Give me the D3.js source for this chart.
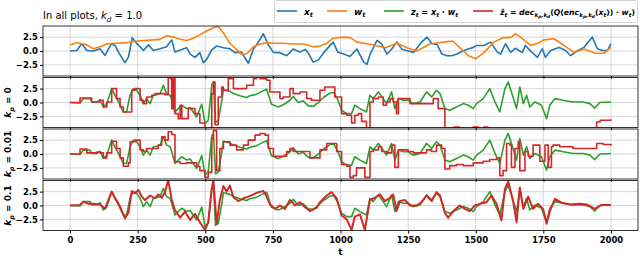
<!DOCTYPE html>
<html>
<head>
<meta charset="utf-8">
<script src="https://cdn.jsdelivr.net/npm/d3@7"></script>
<style>
body { margin: 0; background: #fff; }
svg { display: block; font-family: "DejaVu Sans", sans-serif; }
</style>
</head>
<body>
<script>
// [t, value]
var xt = [[0,0.0],[25,0.1],[43,1.3],[62,0.1],[86,0.0],[111,0.4],[129,-0.8],[153,1.3],[166,1.0],[179,-0.2],[203,-2.1],[216,-1.1],[230,2.4],[240,1.7],[259,0.75],[271,0.1],[290,1.1],[308,0.1],[333,0.4],[357,0.75],[376,2.0],[388,-0.2],[413,0.25],[431,0.6],[444,-0.55],[462,-1.15],[480,-0.3],[493,-2.1],[505,-1.5],[524,0.2],[542,0.9],[567,0.6],[591,0.4],[610,-0.3],[634,-0.2],[659,-2.2],[678,0.3],[696,1.6],[715,3.1],[733,1.1],[752,-0.25],[776,-0.3],[801,-0.85],[825,0.35],[850,-0.2],[869,0.3],[880,-0.3],[899,-2.0],[918,-1.6],[940,-0.2],[955,0.65],[973,1.6],[990,-0.2],[1010,-0.5],[1035,-1.0],[1061,0.35],[1086,-2.0],[1098,-2.4],[1110,-0.5],[1135,1.9],[1152,1.3],[1172,-0.55],[1190,0.4],[1209,1.6],[1227,0.3],[1250,0.0],[1270,-0.25],[1300,1.6],[1320,2.5],[1338,1.3],[1357,1.2],[1375,-0.55],[1394,-0.85],[1412,-0.85],[1430,-0.55],[1455,0.06],[1474,0.4],[1492,0.65],[1503,1.0],[1530,1.0],[1555,1.6],[1580,-0.2],[1592,-0.55],[1610,1.3],[1629,-0.25],[1647,0.5],[1672,-0.3],[1684,1.0],[1703,0.0],[1728,-1.15],[1746,0.4],[1758,-1.15],[1777,0.1],[1808,0.65],[1832,0.1],[1851,-0.85],[1875,0.0],[1900,0.65],[1931,2.5],[1950,0.4],[1968,0.1],[1987,0.1],[2000,1.3]];

var wt = [[0,1.1],[25,1.5],[62,1.1],[86,0.4],[111,0.75],[136,1.25],[172,1.4],[209,1.5],[234,1.7],[271,1.9],[308,2.0],[333,2.1],[357,2.75],[382,2.5],[407,2.1],[431,1.9],[456,2.3],[480,2.9],[505,3.6],[530,4.2],[548,4.4],[567,3.25],[591,1.4],[616,0.25],[634,-0.6],[653,-0.5],[678,0.75],[702,1.25],[727,1.5],[752,1.4],[789,1.4],[825,1.25],[862,1.25],[899,0.75],[924,0.9],[949,1.4],[973,2.3],[1010,2.5],[1036,2.4],[1061,1.6],[1110,1.2],[1166,0.6],[1209,1.4],[1250,0.5],[1283,0.0],[1332,1.3],[1380,1.6],[1415,1.8],[1445,0.4],[1475,-0.9],[1500,-1.4],[1530,-0.3],[1567,1.6],[1600,2.4],[1629,2.4],[1647,3.1],[1666,2.5],[1703,1.0],[1730,1.4],[1752,2.0],[1789,2.2],[1826,1.0],[1863,-0.25],[1900,0.35],[1943,-0.4],[1975,-0.4],[2000,0.65]];

var zt = [[0,0],[37,-0.1],[49,0.7],[74,0.7],[80,0.1],[99,0.1],[111,0.5],[123,-0.8],[136,-0.2],[154,2.5],[166,1.3],[179,0.1],[197,-1.7],[209,-1.7],[222,1.3],[234,2.5],[246,2.2],[259,1.3],[271,-0.2],[283,0.7],[296,-0.2],[308,1.3],[320,1.4],[333,1.6],[345,3.1],[357,1.6],[370,1.3],[376,0.4],[388,-1.7],[400,-1.1],[413,-0.5],[431,-1.1],[444,-0.9],[468,-2.6],[487,-0.3],[499,-3.8],[511,-3.2],[524,3.2],[530,3.7],[538,-3.6],[548,-3.2],[561,0.3],[567,2.3],[591,2.0],[604,1.6],[628,1.2],[653,0.9],[665,1.2],[690,1.5],[709,2.0],[727,2.4],[745,-0.3],[770,-0.8],[789,-0.4],[813,0.4],[825,1.1],[844,0.0],[862,0.3],[881,-0.6],[899,-0.7],[918,0.0],[937,0.9],[961,1.7],[975,1.8],[990,0.5],[1004,-1.4],[1023,-2.0],[1041,-2.0],[1053,-0.5],[1072,-1.1],[1096,-1.7],[1109,1.3],[1121,0.7],[1140,1.9],[1158,0.7],[1170,-0.2],[1189,1.9],[1201,-1.1],[1214,0.7],[1232,0.4],[1250,0.4],[1269,-0.2],[1294,0.1],[1318,1.9],[1337,1.0],[1355,2.2],[1368,1.6],[1386,-1.1],[1404,-1.4],[1429,-0.8],[1454,-0.2],[1472,-0.5],[1491,-1.1],[1503,-0.2],[1528,0.7],[1552,2.5],[1571,0.1],[1589,-1.7],[1608,2.5],[1620,3.7],[1632,1.9],[1651,-1.1],[1663,2.8],[1676,-0.2],[1688,1.3],[1700,-0.8],[1719,0.1],[1743,-0.5],[1762,-2.9],[1774,-0.5],[1793,0.7],[1823,0.4],[1860,0.1],[1897,0.1],[1922,-0.2],[1940,-1.0],[1959,0.0],[2000,0.1]];

// reconstructions, k_p = 0
var zhat0 = [[0,0],[37,0.8],[80,0.1],[111,0.4],[123,-0.8],[136,0.1],[154,2.5],[172,0.7],[185,-0.8],[197,-1.7],[228,2.2],[240,2.5],[259,0.4],[271,-0.2],[283,1.0],[302,1.3],[314,1.6],[351,1.4],[363,4.6],[370,4.3],[376,-1.1],[382,4.3],[388,-2.0],[400,-2.9],[407,-0.5],[413,-2.9],[437,-1.1],[462,-2.0],[480,-3.7],[499,-4.9],[511,-4.6],[524,1.6],[530,3.7],[536,-4.0],[548,1.0],[561,2.8],[567,2.2],[585,4.3],[604,2.5],[653,3.1],[678,4.3],[690,4.9],[702,4.3],[727,4.0],[739,1.9],[776,0.7],[788,1.0],[813,2.5],[825,1.6],[850,1.9],[875,0.7],[893,0.4],[924,2.2],[942,2.8],[979,1.0],[1004,-2.0],[1023,-2.3],[1041,-3.7],[1053,-2.3],[1066,-2.0],[1078,-3.4],[1096,-4.6],[1109,0.1],[1121,0.7],[1140,1.0],[1158,-0.5],[1170,0.1],[1183,0.7],[1195,0.1],[1207,-2.0],[1214,0.7],[1257,-0.2],[1343,0.7],[1361,-1.1],[1386,-4.6],[1420,-4.4],[1440,-4.7],[1490,-4.4],[1510,-4.7],[1530,-4.4],[1545,-4.7],[1947,-3.5],[1960,-3.2],[2000,-3.0]];

// k_p = 0.01
var zhat1 = [[0,0],[37,0.9],[62,0.2],[99,0.35],[111,0.2],[123,-0.7],[136,0.2],[154,2.3],[172,1.0],[185,-0.7],[197,-2.2],[216,-1.6],[222,2.2],[240,2.5],[259,0.75],[271,0.45],[283,1.0],[308,1.0],[326,1.6],[339,3.1],[351,2.5],[363,4.0],[376,3.5],[388,-1.4],[407,-1.7],[431,-1.6],[468,-2.2],[480,-3.0],[499,-4.2],[511,-3.3],[524,2.8],[530,4.2],[542,-3.0],[554,1.0],[567,2.2],[591,1.6],[616,0.75],[641,1.6],[659,2.5],[684,3.4],[702,3.7],[721,3.4],[733,1.0],[752,-0.4],[801,0.45],[813,1.0],[825,0.45],[887,-0.7],[924,0.75],[949,1.9],[986,0.45],[1004,-1.9],[1023,-2.2],[1035,-4.2],[1047,-3.9],[1059,-2.5],[1090,-4.2],[1109,0.45],[1121,0.75],[1140,1.3],[1152,0.45],[1170,0.2],[1189,1.6],[1201,-2.4],[1214,0.75],[1250,0.45],[1269,0.2],[1318,0.75],[1337,0.45],[1355,1.6],[1374,1.0],[1386,-2.7],[1404,-2.1],[1429,-1.9],[1454,-2.1],[1491,-1.6],[1528,-1.3],[1552,-1.0],[1577,-0.7],[1589,-3.9],[1601,-3.0],[1614,1.9],[1626,1.6],[1632,-2.4],[1645,1.0],[1657,2.2],[1663,-3.0],[1682,0.45],[1694,-0.4],[1712,1.6],[1737,-1.3],[1756,1.6],[1768,-2.4],[1780,1.3],[1786,1.6],[1811,1.3],[1860,1.0],[1909,1.0],[1947,1.9],[1971,1.7],[2000,1.5]];

// k_p = 0.1
var zhat2 = [[0,0],[37,0.1],[49,0.7],[68,0.3],[86,0.3],[111,0.2],[129,-0.6],[154,2.5],[166,1.4],[185,-0.2],[203,-2.3],[216,-1.3],[228,2.6],[240,2.2],[253,2.8],[265,1.6],[277,1.0],[296,1.8],[314,1.3],[326,2.0],[339,1.4],[351,2.4],[363,4.6],[376,1.0],[388,-0.8],[407,-2.2],[425,-1.1],[444,-2.6],[462,-1.5],[480,-3.0],[499,-4.4],[511,-3.0],[524,3.0],[530,4.6],[542,-3.3],[554,1.0],[567,3.5],[579,2.5],[591,3.6],[604,1.5],[622,0.8],[641,1.3],[659,1.6],[678,2.0],[696,2.4],[715,2.6],[727,1.6],[739,0.2],[758,-0.6],[776,0.0],[795,-0.6],[813,1.0],[832,0.0],[850,0.6],[869,-0.3],[887,-1.0],[912,-0.4],[924,0.6],[949,1.8],[967,2.4],[986,1.3],[1004,-1.8],[1023,-2.5],[1041,-4.4],[1053,-2.0],[1072,-1.6],[1090,-4.4],[1109,1.0],[1127,1.4],[1146,2.0],[1164,0.8],[1183,1.4],[1195,2.0],[1207,-1.0],[1220,0.8],[1238,1.0],[1257,0.0],[1281,0.0],[1300,0.6],[1318,1.8],[1337,0.8],[1355,2.4],[1368,1.8],[1386,-1.3],[1398,-2.2],[1417,-1.0],[1441,0.0],[1460,-0.6],[1478,-1.0],[1497,0.0],[1515,0.3],[1540,0.6],[1558,1.8],[1577,0.3],[1595,-2.7],[1608,3.0],[1620,4.3],[1639,0.6],[1651,-3.0],[1663,3.2],[1676,-0.6],[1694,1.6],[1712,-0.6],[1731,0.3],[1749,-0.6],[1762,-3.3],[1774,-1.0],[1793,1.2],[1817,0.5],[1848,0.2],[1885,0.3],[1910,0.2],[1940,-0.6],[1965,0.1],[2000,0.1]];

var xTicks = [0, 250, 500, 750, 1000, 1250, 1500, 1750, 2000];
var yTicks = [-2.5, 0, 2.5];
var panelLabels = [null, "0", "0.01", "0.1"];

var blue = "#1f77b4", orange = "#ff7f0e", green = "#2ca02c", red = "#d62728";

var width = 640, height = 258;
var svg = d3.select("body").append("svg").attr("width", width).attr("height", height);

var x = d3.scaleLinear().domain([-100, 2100]).range([43, 638]);
var panelTop = [26, 77.5, 129, 180.5], panelH = 50;

var panels = [
    [{d: xt, c: blue, step: false}, {d: wt, c: orange, step: false}],
    [{d: zt, c: green, step: false}, {d: zhat0, c: red, step: true}],
    [{d: zt, c: green, step: false}, {d: zhat1, c: red, step: true}],
    [{d: zt, c: green, step: false}, {d: zhat2, c: red, step: false}]
];

// writes math-ish text: segments of [text, style] where style n/i/s/ss
function mathText(sel, parts, size) {
    var shift = 0;
    parts.forEach(function(p) {
        var s = 0, fs = size;
        if (p[1] == "s") { s = size * 0.3; fs = size * 0.72; }
        if (p[1] == "ss") { s = size * 0.48; fs = size * 0.56; }
        sel.append("tspan")
            .attr("dy", s - shift)
            .attr("font-size", fs)
            .attr("font-style", p[1] == "n" ? "normal" : "italic")
            .text(p[0]);
        shift = s;
    });
}

panels.forEach(function(series, i) {
    var top = panelTop[i];
    var y = d3.scaleLinear().domain([-4.5, 4.5]).range([top + panelH, top]);
    var g = svg.append("g");

    g.append("clipPath").attr("id", "clip" + i)
        .append("rect").attr("x", x.range()[0]).attr("y", top)
        .attr("width", x.range()[1] - x.range()[0]).attr("height", panelH);

    // grid
    g.selectAll(".vg").data(xTicks).enter().append("line")
        .attr("x1", function(d) { return x(d); }).attr("x2", function(d) { return x(d); })
        .attr("y1", top).attr("y2", top + panelH)
        .attr("stroke", "#cccccc").attr("stroke-width", 0.8);
    g.selectAll(".hg").data(yTicks).enter().append("line")
        .attr("x1", x.range()[0]).attr("x2", x.range()[1])
        .attr("y1", function(d) { return y(d); }).attr("y2", function(d) { return y(d); })
        .attr("stroke", "#cccccc").attr("stroke-width", 0.8);

    var lines = g.append("g").attr("clip-path", "url(#clip" + i + ")");
    series.forEach(function(s, k) {
        var line = d3.line()
            .x(function(d) { return x(d[0]); })
            .y(function(d) { return y(d[1]); })
            .curve(s.step ? d3.curveStepAfter : d3.curveLinear);
        lines.append("path").datum(s.d)
            .attr("fill", "none").attr("stroke", s.c)
            .attr("stroke-width", (i == 3 && k == 1) ? 2 : 1.6).attr("stroke-linejoin", "round")
            .attr("d", line);
    });

    g.append("rect").attr("x", x.range()[0]).attr("y", top)
        .attr("width", x.range()[1] - x.range()[0]).attr("height", panelH)
        .attr("fill", "none").attr("stroke", "#000").attr("stroke-width", 0.8);

    // y axis
    var ya = g.append("g").attr("transform", "translate(" + x.range()[0] + ",0)")
        .call(d3.axisLeft(y).tickValues(yTicks).tickSize(3).tickPadding(2)
            .tickFormat(function(d) { return d3.format(".1f")(d).replace("-", "\u2212"); }));
    ya.select(".domain").remove();
    ya.selectAll("text").attr("font-size", 8.5).attr("font-weight", "bold")
        .attr("font-family", "DejaVu Sans").attr("fill", "#000");

    // x ticks on every panel, labels only at the bottom
    var xa = g.append("g").attr("transform", "translate(0," + (top + panelH) + ")")
        .call(d3.axisBottom(x).tickValues(xTicks).tickSize(3).tickPadding(3).tickFormat(d3.format("d")));
    xa.select(".domain").remove();
    xa.selectAll("text").attr("font-size", 8.5).attr("font-weight", "bold")
        .attr("font-family", "DejaVu Sans").attr("fill", "#000");
    if (i < 3) xa.selectAll("text").remove();

    if (panelLabels[i] !== null) {
        var t = g.append("text")
            .attr("transform", "translate(11," + (top + panelH / 2) + ") rotate(-90)")
            .attr("text-anchor", "middle").attr("font-size", 9).attr("font-weight", "bold");
        mathText(t, [["k", "i"], ["p", "s"], [" = " + panelLabels[i], "n"]], 9);
    }
});

// x label
svg.append("text").attr("x", x(1000)).attr("y", 255).attr("text-anchor", "middle")
    .attr("font-size", 9).attr("font-weight", "bold").text("t");

// title
var title = svg.append("text").attr("x", 43).attr("y", 19).attr("font-size", 10);
mathText(title, [["In all plots, ", "n"], ["k", "i"], ["d", "s"], [" = 1.0", "n"]], 10);

// legend
var legend = svg.append("g");
legend.append("rect").attr("x", 274.5).attr("y", 0.5).attr("width", 363).attr("height", 22)
    .attr("rx", 2).attr("fill", "#fff").attr("fill-opacity", 0.8)
    .attr("stroke", "#cccccc").attr("stroke-width", 0.8);

var legendItems = [
    {c: blue, x: 277, w: 12, parts: [["x", "i"], ["t", "s"]]},
    {c: orange, x: 327, w: 14, parts: [["w", "i"], ["t", "s"]]},
    {c: green, x: 384, w: 47, parts: [["z", "i"], ["t", "s"], [" = ", "n"], ["x", "i"], ["t", "s"], [" \u00b7 ", "n"], ["w", "i"], ["t", "s"]]},
    {c: red, x: 473, w: 135, parts: [["\u1e91", "i"], ["t", "s"], [" = ", "n"], ["dec", "i"], ["k", "s"], ["p", "ss"], [",", "s"], ["k", "s"], ["d", "ss"], ["(", "n"], ["Q", "i"], ["(", "n"], ["enc", "i"], ["k", "s"], ["p", "ss"], [",", "s"], ["k", "s"], ["d", "ss"], ["(", "n"], ["x", "i"], ["t", "s"], [")) \u00b7 ", "n"], ["w", "i"], ["t", "s"], [")", "n"]]}
];
legendItems.forEach(function(it) {
    legend.append("line").attr("x1", it.x).attr("x2", it.x + 20).attr("y1", 11).attr("y2", 11)
        .attr("stroke", it.c).attr("stroke-width", 1.6);
    var t = legend.append("text").attr("x", it.x + 27).attr("y", 14.5)
        .attr("font-weight", "bold");
    mathText(t, it.parts, 9);
    // shrink the long labels to the width they take in the picture
    var len = t.node().getComputedTextLength();
    if (len > it.w + 1) {
        t.selectAll("tspan").remove();
        mathText(t, it.parts, 9 * it.w / len);
    }
});
</script>
</body>
</html>
